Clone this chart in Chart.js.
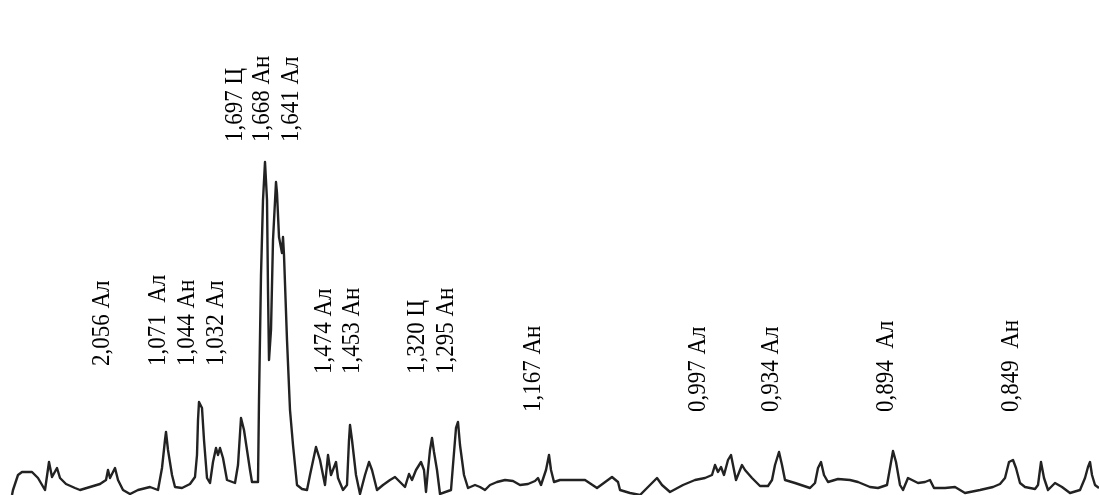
<!DOCTYPE html>
<html>
<head>
<meta charset="utf-8">
<script src="https://cdn.jsdelivr.net/npm/chart.js@4"></script>
<style>
  html, body { margin: 0; padding: 0; background: #fff; }
  #wrap { width: 1099px; height: 495px; }
</style>
</head>
<body>
<div id="wrap"><canvas id="xrd" width="1099" height="495"></canvas></div>
<script>
// Diffractogram profile: detector channel vs. counts
const channel = [12,13,18,22,32,38,45,49,52,57,60,66,75,80,90,100,106,108,110,115,118,123,130,138,150,158,162,165,166,168,172,175,182,190,195,197,198,199,202,204,207,210,213,216,218,220,223,227,235,238,241,244,247,250,252,258,259,261,263,265,267,268,269,271,273,276,277,279,282,283,284,287,290,293,297,302,307,310,316,320,325,328,331,336,338,343,347,349,350,352,356,360,365,369,372,377,383,390,395,400,405,409,412,416,421,424,426,428,430,432,434,437,440,451,453,456,458,460,464,468,475,480,485,490,497,505,513,520,528,535,538,541,546,549,551,554,560,585,597,612,618,620,630,640,650,657,662,670,683,695,705,712,715,718,721,724,728,731,734,736,742,745,752,760,768,772,775,779,782,785,795,810,815,818,821,824,828,838,850,858,870,878,887,890,893,896,900,903,908,912,918,925,930,934,945,955,965,980,993,1000,1005,1009,1013,1016,1020,1025,1035,1038,1041,1044,1048,1055,1062,1070,1080,1085,1088,1090,1092,1095,1099];
const counts = [0,5,20,23,23,17,5,33,18,27,17,11,7,5,8,11,15,25,17,27,15,5,1,5,8,5,27,55,63,45,20,8,7,11,18,40,75,93,87,55,17,12,33,47,40,47,37,15,12,30,77,65,45,25,13,13,95,220,295,333,295,205,135,165,255,313,302,258,242,258,240,155,85,50,10,6,5,20,48,35,10,40,20,33,17,5,10,55,70,55,20,1,20,33,25,5,10,15,18,13,8,21,15,25,33,25,3,25,45,57,43,25,1,5,30,67,73,50,20,7,10,8,5,10,13,15,14,10,11,14,17,10,25,40,25,13,15,15,7,18,13,5,2,0,10,17,10,3,10,15,17,20,30,23,28,20,35,40,25,15,30,25,17,9,9,15,30,43,30,15,12,7,12,27,33,20,13,16,15,13,8,7,10,27,44,33,10,5,17,15,12,13,15,7,7,8,2,5,8,11,17,33,35,27,12,8,6,10,33,17,5,12,8,2,5,17,28,33,20,10,7];

// Peak annotations: interplanar spacing (Å) and phase
const peakLabels = ['2,056 Ал','1,071  Ал','1,044 Ан','1,032 Ал','1,697 Ц','1,668 Ан','1,641 Ал','1,474 Ал','1,453 Ан','1,320 Ц','1,295 Ан','1,167 Ан','0,997 Ал','0,934 Ал','0,894  Ал','0,849  Ан'];
const labelChannel = [102,158,187,216,235,262,291,324,352,417,446,533,698,771,886,1011];
const labelLevel = [129,129,129,129,353,353,353,121,121,121,121,83,83,83,83,83];

const points = channel.map((c, i) => ({ x: c, y: counts[i] }));
const LABEL_FONT = '23px "Liberation Serif"';

const peakLabelPlugin = {
  id: 'peakLabels',
  afterDatasetsDraw(chart) {
    const { ctx, scales: { x, y } } = chart;
    ctx.save();
    ctx.fillStyle = '#000';
    ctx.font = LABEL_FONT + ', "Times New Roman", serif';
    ctx.textAlign = 'left';
    ctx.textBaseline = 'middle';
    peakLabels.forEach((txt, i) => {
      const px = x.getPixelForValue(labelChannel[i]);
      const py = y.getPixelForValue(labelLevel[i]);
      ctx.save();
      ctx.translate(px, py);
      ctx.rotate(-Math.PI / 2);
      // slightly taller glyphs than the font's natural proportions
      ctx.scale(1, 1.1);
      ctx.fillText(txt, 0, 0);
      ctx.restore();
    });
    ctx.restore();
  }
};

function draw() {
  new Chart(document.getElementById('xrd'), {
    type: 'line',
    data: {
      datasets: [{
        data: points,
        borderColor: '#222',
        borderWidth: 2.4,
        borderJoinStyle: 'round',
        pointRadius: 0,
        tension: 0,
        fill: false
      }]
    },
    options: {
      responsive: false,
      animation: false,
      layout: { padding: 0 },
      plugins: { legend: { display: false }, tooltip: { enabled: false } },
      scales: {
        x: { type: 'linear', min: 0, max: 1099, display: false },
        y: { type: 'linear', min: 0, max: 495, display: false }
      }
    },
    plugins: [peakLabelPlugin]
  });
}

document.fonts.load(LABEL_FONT, 'Ал 1,0').then(draw, draw);
</script>
</body>
</html>
